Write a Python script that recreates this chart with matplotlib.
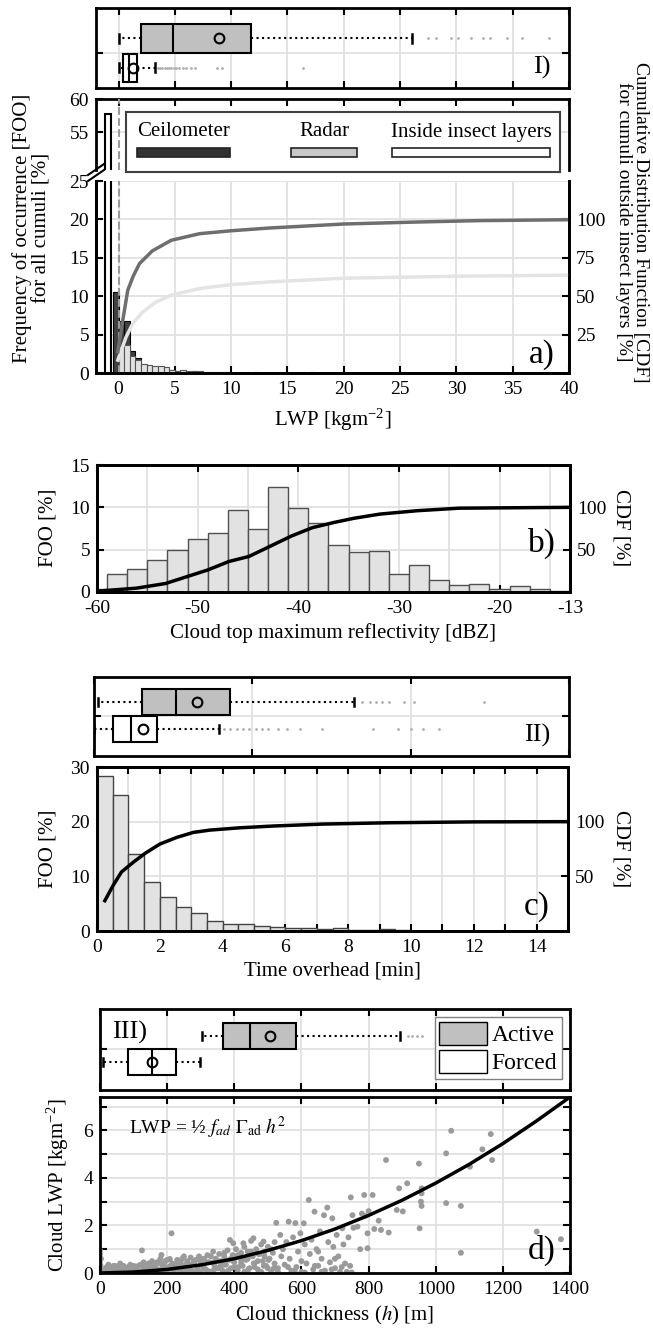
import matplotlib.pyplot as plt
import numpy as np
from matplotlib.patches import Patch, Rectangle
from matplotlib.lines import Line2D

plt.rcParams['font.family'] = ['Liberation Serif', 'DejaVu Serif']
plt.rcParams['mathtext.fontset'] = 'stix'
plt.rcParams['font.size'] = 14
plt.rcParams['axes.unicode_minus'] = False
plt.rcParams['axes.linewidth'] = 2
plt.rcParams['xtick.direction'] = 'in'
plt.rcParams['ytick.direction'] = 'in'
plt.rcParams['xtick.major.width'] = 1.5
plt.rcParams['ytick.major.width'] = 1.5
plt.rcParams['xtick.major.size'] = 5
plt.rcParams['ytick.major.size'] = 5
plt.rcParams['xtick.major.pad'] = 6
plt.rcParams['ytick.major.pad'] = 5
plt.rcParams['grid.color'] = '#e2e2e2'
plt.rcParams['grid.linewidth'] = 1.3
plt.rcParams['axes.axisbelow'] = True

# ---------------- data ----------------
# panel I (LWP box plots): whislo, q1, median, q3, whishi
lwp_radar_box = [0.05, 2.0, 4.87, 11.8, 26.1]
lwp_radar_mean = 8.9
lwp_radar_out = [27.5, 28.2, 29.5, 30.1, 31.3, 32.4, 33.0, 34.5, 35.8, 38.2]
lwp_insect_box = [0.05, 0.42, 0.9, 1.64, 3.2]
lwp_insect_mean = 1.26
lwp_insect_out = [3.5, 3.7, 3.9, 4.1, 4.3, 4.5, 4.7, 4.9, 5.1, 5.4, 5.7, 6.0,
                  6.4, 6.8, 8.7, 9.2, 16.4]

# panel a histogram (bin width 0.5 kg m-2, left edges)
insect_left = [-1.2]
insect_foo = [57.7]
ceil_left = [-0.5, 0.0, 0.5, 1.0, 1.5, 4.5, 5.0, 6.5, 9.5, 12.0, 17.0, 25.0]
ceil_foo = [10.5, 6.8, 6.8, 2.8, 2.0, 0.35, 0.3, 0.25, 0.15, 0.15, 0.1, 0.1]
radar_left = [0.0, 0.5, 1.0, 1.5, 2.0, 2.5, 3.0, 3.5, 4.0, 4.5, 5.0, 5.5, 6.0,
              6.5, 7.0, 7.5, 8.0, 8.5, 9.0, 9.5, 10.0, 10.5, 11.0, 12.0, 13.0]
radar_foo = [3.5, 3.7, 2.2, 1.7, 1.2, 1.0, 0.9, 0.85, 0.75, 0.35, 0.3, 0.35,
             0.3, 0.25, 0.2, 0.15, 0.12, 0.1, 0.1, 0.08, 0.06, 0.05, 0.05,
             0.04, 0.03]
ceil_cdf_x = [-0.06, 0.38, 0.82, 1.3, 1.86, 3.0, 4.68, 7.2, 10.0, 13.4, 20.0, 26.5, 32.0, 40.0]
ceil_cdf_y = [13.8, 34.4, 53.9, 63.0, 71.2, 79.5, 86.4, 90.7, 92.6, 94.4, 97.0, 98.3, 99.2, 99.8]
radar_cdf_x = [-0.06, 0.68, 1.27, 2.16, 3.35, 4.68, 7.2, 10.0, 13.4, 20.0, 30.0, 40.0]
radar_cdf_y = [8.4, 23.6, 32.3, 39.8, 46.3, 50.7, 55.0, 57.5, 59.3, 61.7, 63.0, 63.7]

# panel b: cloud top max reflectivity (2 dBZ bins)
dbz_left = np.arange(-61, -13, 2)
dbz_foo = [0.4, 2.1, 2.7, 3.8, 5.0, 6.3, 7.0, 9.7, 7.5, 12.4, 9.9, 8.2,
           5.6, 4.7, 4.9, 2.1, 3.2, 1.4, 0.8, 1.0, 0.3, 0.7, 0.3, 0.1]
dbz_cdf_x = [-60, -56.1, -53.2, -51.1, -49.0, -46.9, -44.9, -42.8, -40.7,
             -38.6, -36.5, -34.5, -31.9, -28.2, -24.0, -13.0]
dbz_cdf_y = [1, 4.5, 10, 18, 26, 36, 42, 54, 66, 76, 82, 87, 92, 96, 99, 100]

# panel II: time overhead box plots [min]
time_active_box = [0.13, 1.52, 2.6, 4.3, 8.2]
time_active_mean = 3.24
time_active_out = [8.45, 8.7, 8.9, 9.1, 9.3, 9.8, 10.1, 12.3]
time_forced_box = [0.0, 0.6, 1.16, 2.0, 3.95]
time_forced_mean = 1.56
time_forced_out = [4.1, 4.3, 4.5, 4.7, 4.9, 5.1, 5.3, 5.5, 5.8, 6.1, 6.5,
                   7.2, 8.8, 9.6, 10.0, 10.4, 10.9]

# panel c histogram (0.5 min bins)
time_left = np.arange(0, 10, 0.5)
time_foo = [28.4, 24.9, 14.1, 9.0, 6.3, 4.4, 3.35, 1.8, 1.2, 1.35, 0.85, 0.7,
            0.6, 0.6, 0.4, 0.5, 0.2, 0.1, 0.35, 0.15]
time_cdf_x = [0.25, 0.52, 0.78, 1.16, 1.53, 2.0, 2.54, 3.07, 3.6, 4.55, 5.6,
              7.2, 9.3, 12.0, 15.0]
time_cdf_y = [27.7, 42, 54, 63, 71, 79.5, 85.6, 90.2, 92.3, 94.4, 96, 97.8,
              99, 99.8, 100]

# panel III: cloud thickness box plots [m]
thick_active_box = [305, 365, 446, 584, 895]
thick_active_mean = 505
thick_active_out = [917, 930, 945, 960]
thick_forced_box = [10, 83, 156, 227, 299]
thick_forced_mean = 156

# panel d: scatter of cloud thickness vs LWP
h_obs = [0, 0, 0, 0, 0, 0, 0, 0, 2, 3, 5, 4,
         15, 20, 25, 30, 35, 40, 45, 50, 55, 60, 65, 70, 75, 80, 85, 90, 95,
         100, 105, 110, 115, 120, 125, 130, 135, 140, 145, 150,
         155, 160, 165, 170, 175, 180, 183, 185, 190, 195, 200, 205, 208, 213,
         215, 220, 225, 230, 235, 240, 245, 250, 255, 260, 265, 270, 275, 280,
         285, 290, 295, 300, 300,
         305, 310, 315, 320, 325, 330, 337, 340, 345, 350, 355, 360, 365, 370,
         375, 380, 385, 387, 390, 395, 397, 400, 405, 410, 415, 420, 425, 427,
         430, 435, 440, 445, 450, 455, 457, 460, 465, 470, 475, 480, 485, 487,
         490, 495, 500, 505, 510, 515, 520, 520,
         525, 530, 537, 540, 545, 550, 555, 562, 565, 570, 575, 582, 585, 590,
         597, 600, 607, 610, 615, 622, 625, 630, 635, 639, 645, 650, 655, 660,
         667, 670, 677, 680, 685, 692, 695, 700, 705, 710, 715, 722, 725, 730,
         740, 745, 747, 750, 752, 755,
         767, 775, 787, 790, 797, 800, 812, 817, 837, 852, 860, 884, 891, 902,
         915, 950, 952, 956, 958, 958, 958, 1031, 1031, 1046, 1075, 1075, 1102,
         1139, 1164, 1168, 1301, 1373, 797, 780, 830,
         10, 20, 30, 40, 50, 60, 70, 80, 90, 100, 110, 120, 130, 140, 150, 160,
         170, 180, 190, 200, 210, 220, 230, 240, 250, 260, 270, 280, 290, 300,
         310, 320, 330, 340, 350, 360, 370, 380, 390, 400, 410, 420, 430, 440,
         450, 460, 470, 480, 490, 500, 510,
         530, 560, 580, 610, 640, 660, 690, 720, 735, 600, 650, 700,
         8, 18, 28, 38, 48, 58, 68, 78, 88, 98, 112, 128, 142, 158, 172, 188,
         202, 218, 232, 248, 262, 278, 292, 308, 322, 338, 352, 368, 382, 398,
         412, 428, 442, 458, 472, 488, 502, 518]
lwp_obs = [0.95, 0.8, 0.65, 0.5, 0.35, 0.2, 0.1, 0.05, 0.3, 0.6, 0.15, 0.02,
           0.05, 0.2, 0.35, 0.1, 0.02, 0.15, 0.3, 0.05, 0.25, 0.12, 0.02, 0.3,
           0.18, 0.08, 0.25, 0.04, 0.15, 0.3, 0.1, 0.2, 0.03, 0.35, 0.95,
           0.15, 0.25, 0.06, 0.4, 0.2,
           0.5, 0.1, 0.3, 0.45, 0.05, 0.6, 0.76, 0.2, 0.35, 0.5, 0.1, 0.25,
           0.59, 1.67, 0.4, 0.05, 0.3, 0.55, 0.15, 0.45, 0.6, 0.08, 0.35, 0.5,
           0.2, 0.65, 0.1, 0.4, 0.55, 0.25, 0.7, 0.05, 0.45,
           0.3, 0.6, 0.15, 0.75, 0.45, 0.05, 0.9, 0.35, 0.6, 0.2, 0.8, 0.5, 0.1,
           0.7, 0.35, 0.95, 0.55, 1.39, 0.2, 0.75, 1.25, 0.45, 1.0, 0.1, 0.65,
           0.85, 0.3, 1.25, 1.1, 0.55, 0.9, 0.2, 1.35, 0.7, 1.46, 0.4, 1.0,
           0.15, 0.8, 1.2, 0.5, 1.32, 0.9, 0.3, 1.1, 0.6, 0.05, 0.85, 0.4, 1.3,
           2.11, 0.2, 1.6, 0.7, 1.0, 0.35, 1.3, 2.16, 0.6, 0.1, 1.5, 2.1, 0.25,
           0.9, 1.67, 0.05, 2.09, 1.2, 0.4, 3.07, 0.8, 1.4, 0.15, 2.58, 1.0,
           0.3, 1.75, 0.6, 2.43, 0.1, 2.75, 1.3, 0.45, 2.3, 1.1, 0.2, 1.6, 0.7,
           0.05, 1.88, 1.2, 0.4, 1.5, 0.3, 3.18, 0.02, 2.43, 1.9,
           1.95, 1.0, 3.28, 2.4, 1.67, 2.6, 3.28, 1.85, 1.81, 4.75, 1.7, 2.65,
           3.56, 2.59, 3.77, 4.6, 1.88, 3.0, 3.56, 3.35, 2.82, 2.94, 5.03, 5.98,
           2.82, 0.85, 4.47, 5.2, 5.84, 4.75, 1.74, 1.42, 1.04, 2.5, 2.2,
           0.1, 0.25, 0.05, 0.3, 0.18, 0.4, 0.08, 0.22, 0.35, 0.12, 0.28, 0.05,
           0.45, 0.2, 0.1, 0.3, 0.15, 0.4, 0.05, 0.55, 0.3, 0.15, 0.45, 0.25,
           0.7, 0.1, 0.35, 0.5, 0.05, 0.6, 0.2, 0.45, 0.7, 0.15, 0.5, 0.3,
           0.85, 0.05, 0.6, 0.25, 0.75, 0.45, 0.05, 0.6, 0.9, 0.25, 0.5, 0.05,
           0.7, 0.2, 1.0,
           0.05, 0.25, 0.1, 0.02, 0.3, 0.05, 0.15, 0.25, 0.05, 0.5, 0.9, 0.6,
           0.03, 0.12, 0.06, 0.2, 0.04, 0.1, 0.02, 0.16, 0.07, 0.2, 0.08, 0.25,
           0.12, 0.3, 0.06, 0.22, 0.1, 0.35, 0.18, 0.05, 0.28, 0.4, 0.12, 0.3,
           0.08, 0.45, 0.2, 0.35, 0.1, 0.5, 0.25, 0.6, 0.15, 0.4, 0.8, 0.3,
           0.55, 0.2]
fit_h = [0, 100, 200, 300, 400, 500, 600, 700, 800, 900, 1000, 1100, 1200,
         1300, 1400]
fit_lwp = [0, 0.04, 0.15, 0.34, 0.6, 0.95, 1.36, 1.85, 2.42, 3.06, 3.78,
           4.57, 5.44, 6.39, 7.4]

# ---------------- layout helpers ----------------
W, H = 653, 1330
fig = plt.figure(figsize=(W / 100, H / 100), dpi=100)


def ax_px(x0, y0, x1, y1):
    return fig.add_axes([x0 / W, 1 - y1 / H, (x1 - x0) / W, (y1 - y0) / H])


def ftext(x, y, s, **kw):
    fig.text(x / W, 1 - y / H, s, ha='center', va='center', **kw)


def stats(v, mean, out):
    return dict(whislo=v[0], q1=v[1], med=v[2], q3=v[3], whishi=v[4],
                mean=mean, fliers=out)


def draw_box(ax, st, colors, width):
    b = ax.bxp(st, positions=[2, 1], widths=width, orientation='horizontal',
               patch_artist=True, showmeans=True, showfliers=True,
               boxprops=dict(edgecolor='k', linewidth=1.5),
               whiskerprops=dict(color='k', linestyle=':', linewidth=1.5),
               capprops=dict(color='k', linewidth=1.8),
               medianprops=dict(color='k', linewidth=1.5),
               meanprops=dict(marker='o', markerfacecolor='none',
                              markeredgecolor='k', markersize=7,
                              markeredgewidth=1.5),
               flierprops=dict(marker='.', markersize=2,
                               markerfacecolor='#b0b0b0',
                               markeredgecolor='#b0b0b0'),
               capwidths=0.3, manage_ticks=False)
    for p, c in zip(b['boxes'], colors):
        p.set_facecolor(c)
    ax.set_yticks([1.5])
    ax.set_yticklabels([])
    ax.tick_params(right=True, top=True, labelbottom=False)
    ax.grid(True)


BOXGRAY = '#c0c0c0'
BARGRAY = '#e2e2e2'

# ---------------- panel I ----------------
axI = ax_px(96, 8, 569, 88)
draw_box(axI, [stats(lwp_radar_box, lwp_radar_mean, lwp_radar_out),
               stats(lwp_insect_box, lwp_insect_mean, lwp_insect_out)],
         [BOXGRAY, 'white'], 0.97)
axI.set_xlim(-2, 40)
axI.set_xticks(range(0, 41, 5))
axI.set_ylim(0.32, 3.03)
ftext(542, 67, 'I)', fontsize=19)

# ---------------- panel a (broken axis) ----------------
axU = ax_px(96, 99, 569, 170)
axL = ax_px(96, 181, 569, 373)
for ax in (axU, axL):
    ax.bar(insect_left, insect_foo, width=0.55, align='edge', color='white',
           edgecolor='k', linewidth=1.5, zorder=3)
    ax.axvline(0, color='#9a9a9a', linestyle='--', linewidth=1.5, zorder=4)
    ax.set_xlim(-2, 40)
    ax.set_xticks(range(0, 41, 5))
axU.set_ylim(49.3, 60)
axU.set_yticks([55, 60])
axU.spines['bottom'].set_visible(False)
axU.tick_params(bottom=False, labelbottom=False, top=True)
axU.grid(True, axis='y')

axL.bar(ceil_left, ceil_foo, width=0.5, align='edge', color='#404040',
        edgecolor='k', linewidth=0.8, zorder=2)
axL.bar(radar_left, radar_foo, width=0.5, align='edge', color=BARGRAY,
        edgecolor='#555555', linewidth=0.8, zorder=2.5)
axL.set_ylim(0, 25)
axL.set_yticks(range(0, 26, 5))
axL.spines['top'].set_visible(False)
axL.grid(True)
axL.set_xlabel('LWP [kgm$^{\\mathregular{-2}}$]', fontsize=15, labelpad=6)
axL2 = axL.twinx()
axL2.plot(radar_cdf_x, radar_cdf_y, color='#e4e4e4', linewidth=2.5)
axL2.plot(ceil_cdf_x, ceil_cdf_y, color='#6e6e6e', linewidth=2.5)
axL2.set_ylim(0, 125)
axL2.set_yticks([25, 50, 75, 100])
axL2.spines['top'].set_visible(False)
ftext(542, 355, 'a)', fontsize=24)

# break marks
for dy in (0, 6):
    fig.add_artist(Line2D([88 / W, 104 / W],
                          [1 - (175 + dy) / H, 1 - (164 + dy) / H],
                          transform=fig.transFigure, color='k', linewidth=1.5))

# hand-made legend box for panel a
axLeg = ax_px(126, 112, 560, 172)
axLeg.set_zorder(10)
axLeg.set_xlim(0, 434)
axLeg.set_ylim(60, 0)
axLeg.set_xticks([])
axLeg.set_yticks([])
for s in axLeg.spines.values():
    s.set_linewidth(1.5)
    s.set_edgecolor('#404040')
leg_labels = ['Ceilometer', 'Radar', 'Inside insect layers']
leg_colors = ['#333333', '#c8c8c8', 'white']
leg_x = [(11, 104), (165, 231), (266, 424)]
for lab, col, (xa, xb) in zip(leg_labels, leg_colors, leg_x):
    axLeg.text((xa + xb) / 2, 20, lab, ha='center', va='center', fontsize=15)
    axLeg.add_patch(Rectangle((xa, 36), xb - xa, 9, facecolor=col,
                              edgecolor='#222222', linewidth=1.2))

ftext(32, 228, 'Frequency of occurrence [FOO]\nfor all cumuli [%]',
      rotation=90, fontsize=15, linespacing=1.0)
ftext(632, 222, 'Cumulative Distribution Function [CDF]\n'
      'for cumuli outside insect layers [%]', rotation=-90, fontsize=14,
      linespacing=0.95)

# ---------------- panel b ----------------
axb = ax_px(97, 465, 570, 592)
axb.bar(dbz_left, dbz_foo, width=2, align='edge', color=BARGRAY,
        edgecolor='#505050', linewidth=1)
axb.set_xlim(-60, -13)
axb.set_ylim(0, 15)
axb.set_yticks([0, 5, 10, 15])
axb.set_xticks([-60, -50, -40, -30, -20, -13])
axb.set_xticks([-55, -45, -35, -25, -15], minor=True)
axb.tick_params(which='minor', length=0)
axb.tick_params(top=True)
axb.grid(True, which='both')
axb.set_xlabel('Cloud top maximum reflectivity [dBZ]', fontsize=15,
               labelpad=4)
axb2 = axb.twinx()
axb2.plot(dbz_cdf_x, dbz_cdf_y, color='k', linewidth=2.5)
axb2.set_ylim(0, 150)
axb2.set_yticks([50, 100])
ftext(48, 528, 'FOO [%]', rotation=90, fontsize=15)
ftext(621, 528, 'CDF [%]', rotation=-90, fontsize=15)
ftext(542, 543, 'b)', fontsize=24)

# ---------------- panel II ----------------
axII = ax_px(94, 677, 569, 756)
draw_box(axII, [stats(time_active_box, time_active_mean, time_active_out),
                stats(time_forced_box, time_forced_mean, time_forced_out)],
         [BOXGRAY, 'white'], 0.96)
axII.set_xlim(0, 15)
axII.set_xticks([0, 5, 10, 15])
axII.set_ylim(0, 2.93)
ftext(537, 735, 'II)', fontsize=19)

# ---------------- panel c ----------------
axc = ax_px(97, 767, 568, 931)
axc.bar(time_left, time_foo, width=0.5, align='edge', color=BARGRAY,
        edgecolor='#444444', linewidth=1)
axc.set_xlim(0, 15)
axc.set_ylim(0, 30)
axc.set_yticks([0, 10, 20, 30])
axc.set_xticks(range(16))
axc.set_xticklabels([str(v) if v % 2 == 0 else '' for v in range(16)])
axc.tick_params(top=True)
axc.grid(True)
axc.set_xlabel('Time overhead [min]', fontsize=15, labelpad=4)
axc2 = axc.twinx()
axc2.plot(time_cdf_x, time_cdf_y, color='k', linewidth=2.5)
axc2.set_ylim(0, 150)
axc2.set_yticks([50, 100])
ftext(48, 849, 'FOO [%]', rotation=90, fontsize=15)
ftext(621, 849, 'CDF [%]', rotation=-90, fontsize=15)
ftext(537, 907, 'c)', fontsize=24)

# ---------------- panel III ----------------
axIII = ax_px(100, 1009, 570, 1090)
draw_box(axIII, [stats(thick_active_box, thick_active_mean, thick_active_out),
                 stats(thick_forced_box, thick_forced_mean, [])],
         [BOXGRAY, 'white'], 1.0)
axIII.set_xlim(0, 1400)
axIII.set_xticks(range(0, 1401, 200))
axIII.set_ylim(-0.08, 3.04)
axIII.legend(handles=[Patch(facecolor=BOXGRAY, edgecolor='k'),
                      Patch(facecolor='white', edgecolor='k')],
             labels=['Active', 'Forced'], loc='upper right', fontsize=17,
             handlelength=2.0, handleheight=1.1, borderpad=0.2,
             labelspacing=0.15, handletextpad=0.2, borderaxespad=0.35,
             framealpha=1, fancybox=False, edgecolor='#808080')
ftext(130, 1032, 'III)', fontsize=19)

# ---------------- panel d ----------------
axd = ax_px(100, 1097, 570, 1273)
axd.scatter(h_obs, lwp_obs, s=18, color='#9a9a9a', edgecolors='none',
            zorder=2)
axd.plot(fit_h, fit_lwp, color='k', linewidth=2.5, zorder=3)
axd.set_xlim(0, 1400)
axd.set_ylim(0, 7.4)
axd.set_xticks(range(0, 1401, 200))
axd.set_yticks(range(8))
axd.set_yticklabels(['0', '', '2', '', '4', '', '6', ''])
axd.tick_params(top=True, right=True)
axd.grid(True)
axd.set_xlabel('Cloud thickness ($h$) [m]', fontsize=15, labelpad=4)
axd.text(85, 6.1, 'LWP = \u00bd $f_{ad}$ $\\Gamma_{\\mathrm{ad}}$ $h^2$',
         fontsize=14, va='center')
ftext(58, 1185, 'Cloud LWP [kgm$^{\\mathregular{-2}}$]', rotation=90,
      fontsize=15)
ftext(542, 1250, 'd)', fontsize=24)

fig.savefig('out.png', dpi=100)
